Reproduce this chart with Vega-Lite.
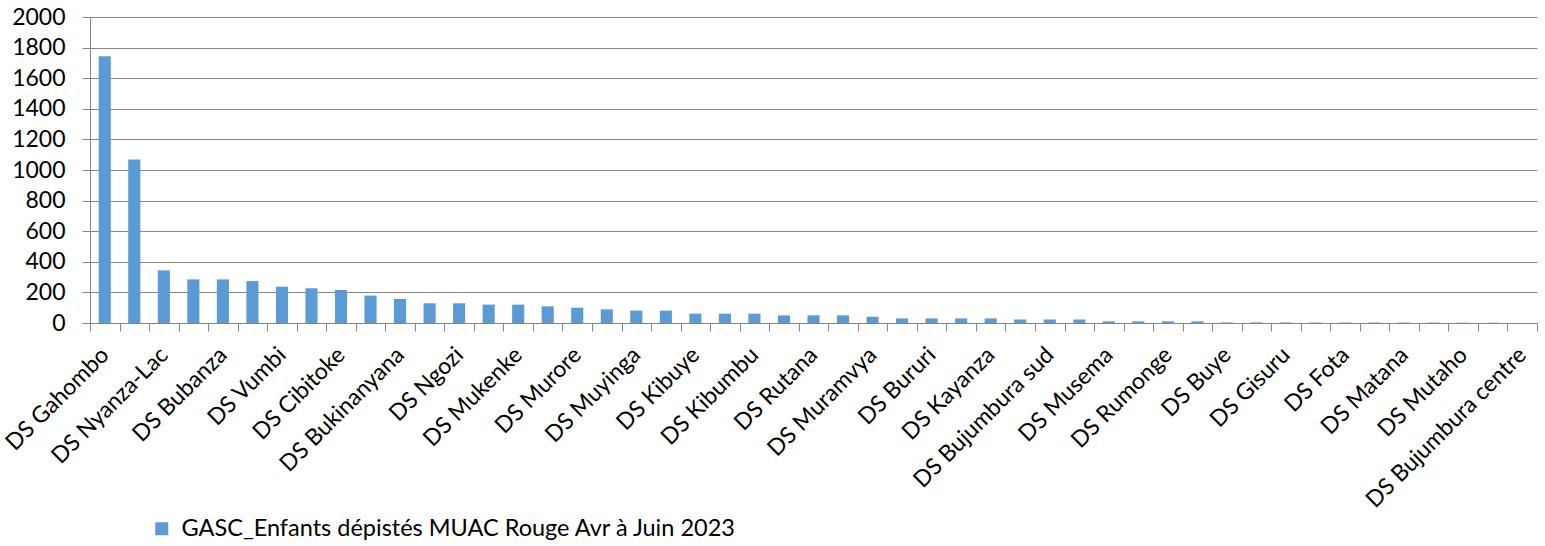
{
  "$schema": "https://vega.github.io/schema/vega-lite/v6.json",
  "width": 1447,
  "height": 306,
  "autosize": {"type": "none"},
  "padding": {"left": 90, "top": 17, "right": 8, "bottom": 223},
  "background": "white",
  "config": {
    "font": "Lato",
    "view": {"stroke": null}
  },
  "data": {
    "values": [
      {"district": "DS Gahombo", "enfants": 1743},
      {"district": "DS Kirundo", "enfants": 1068},
      {"district": "DS Nyanza-Lac", "enfants": 344},
      {"district": "DS Makamba", "enfants": 285},
      {"district": "DS Bubanza", "enfants": 285},
      {"district": "DS Mpanda", "enfants": 274},
      {"district": "DS Vumbi", "enfants": 237},
      {"district": "DS Gitega", "enfants": 227},
      {"district": "DS Cibitoke", "enfants": 216},
      {"district": "DS Mabayi", "enfants": 179},
      {"district": "DS Bukinanyana", "enfants": 157},
      {"district": "DS Busoni", "enfants": 129},
      {"district": "DS Ngozi", "enfants": 129},
      {"district": "DS Kiremba", "enfants": 120},
      {"district": "DS Mukenke", "enfants": 120},
      {"district": "DS Cankuzo", "enfants": 109},
      {"district": "DS Murore", "enfants": 100},
      {"district": "DS Giteranyi", "enfants": 89},
      {"district": "DS Muyinga", "enfants": 81},
      {"district": "DS Gashoho", "enfants": 81},
      {"district": "DS Kibuye", "enfants": 61},
      {"district": "DS Ryansoro", "enfants": 61},
      {"district": "DS Kibumbu", "enfants": 61},
      {"district": "DS Kiganda", "enfants": 50},
      {"district": "DS Rutana", "enfants": 50},
      {"district": "DS Gihofi", "enfants": 50},
      {"district": "DS Muramvya", "enfants": 41},
      {"district": "DS Nyabikere", "enfants": 30},
      {"district": "DS Bururi", "enfants": 30},
      {"district": "DS Buhiga", "enfants": 30},
      {"district": "DS Kayanza", "enfants": 30},
      {"district": "DS Bujumbura nord", "enfants": 23},
      {"district": "DS Bujumbura sud", "enfants": 23},
      {"district": "DS Isare", "enfants": 23},
      {"district": "DS Musema", "enfants": 11},
      {"district": "DS Kabezi", "enfants": 11},
      {"district": "DS Rumonge", "enfants": 11},
      {"district": "DS Ruyigi", "enfants": 11},
      {"district": "DS Buye", "enfants": 4},
      {"district": "DS Butezi", "enfants": 4},
      {"district": "DS Gisuru", "enfants": 4},
      {"district": "DS Kinyinya", "enfants": 3},
      {"district": "DS Fota", "enfants": 3},
      {"district": "DS Rwibaga", "enfants": 3},
      {"district": "DS Matana", "enfants": 3},
      {"district": "DS Bugarama", "enfants": 3},
      {"district": "DS Mutaho", "enfants": 2},
      {"district": "DS Nyabiraba", "enfants": 2},
      {"district": "DS Bujumbura centre", "enfants": 0}
    ]
  },
  "mark": {"type": "bar", "width": {"band": 0.41}},
  "encoding": {
    "x": {
      "field": "district",
      "type": "nominal",
      "sort": null,
      "scale": {"paddingInner": 0, "paddingOuter": 0},
      "axis": {
        "title": null,
        "tickBand": "extent",
        "tickSize": 8,
        "tickColor": "#868686",
        "domainColor": "#868686",
        "labelAngle": -45,
        "labelAlign": "right",
        "labelBaseline": "middle",
        "labelPadding": 20,
        "labelFont": "Lato",
        "labelFontSize": 23,
        "labelColor": "#000000",
        "labelLimit": 0,
        "labelOverlap": false,
        "labelExpr": "round(datum.index * 48) % 2 == 0 ? datum.label : ''"
      }
    },
    "y": {
      "field": "enfants",
      "type": "quantitative",
      "scale": {"domain": [0, 2000], "nice": false},
      "axis": {
        "title": null,
        "values": [0, 200, 400, 600, 800, 1000, 1200, 1400, 1600, 1800, 2000],
        "grid": true,
        "gridColor": "#868686",
        "gridWidth": 1,
        "domain": true,
        "domainColor": "#868686",
        "tickSize": 8,
        "tickColor": "#868686",
        "labelPadding": 17,
        "labelFont": "Lato",
        "labelFontSize": 23,
        "labelColor": "#000000",
        "format": "d"
      }
    },
    "color": {
      "datum": "GASC_Enfants dépistés MUAC Rouge Avr à Juin 2023",
      "scale": {"range": ["#5B9BD5"]},
      "legend": {
        "title": null,
        "orient": "none",
        "legendX": 60,
        "legendY": 500,
        "padding": 0,
        "symbolType": "square",
        "symbolSize": 169,
        "symbolStrokeWidth": 0,
        "labelOffset": 8,
        "labelLimit": 0,
        "labelFont": "Lato",
        "labelFontSize": 23.5,
        "labelColor": "#000000"
      }
    }
  }
}
